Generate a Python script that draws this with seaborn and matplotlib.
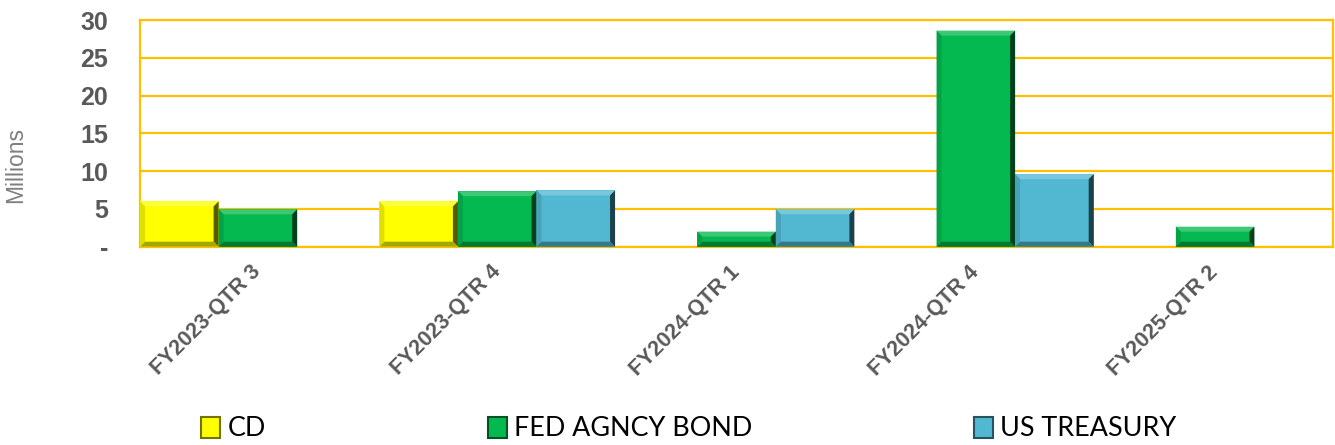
import seaborn as sns
import matplotlib.pyplot as plt
import matplotlib.colors as mcolors
from matplotlib import font_manager as fm
from matplotlib.patches import Polygon, Patch
from matplotlib.textpath import TextPath
import pandas as pd
import numpy as np

quarters = ['FY2023-QTR 3', 'FY2023-QTR 4', 'FY2024-QTR 1', 'FY2024-QTR 4', 'FY2025-QTR 2']
types = ['CD', 'FED AGNCY BOND', 'US TREASURY']
cd = [6.0, 6.0, 0, 0, 0]
fed_agncy_bond = [4.95, 7.35, 2.0, 28.6, 2.65]
us_treasury = [0, 7.45, 4.95, 9.6, 0]
colors = ['#FFFF00', '#05B951', '#52B8D1']

rows = []
for t, vals in zip(types, [cd, fed_agncy_bond, us_treasury]):
    for q, v in zip(quarters, vals):
        rows.append({'quarter': q, 'type': t, 'value': v})
df = pd.DataFrame(rows)

gold = '#FFC000'
grey = '#595959'


def pick_font(cands):
    for c in cands:
        try:
            fm.findfont(fm.FontProperties(family=c), fallback_to_default=False)
            return c
        except ValueError:
            continue
    return 'DejaVu Sans'


legend_font = pick_font(['Liberation Sans Narrow', 'Lato', 'Open Sans'])
# size the legend text so that "FED AGNCY BOND" is about 234 px wide
w10 = TextPath((0, 0), 'FED AGNCY BOND', size=10,
               prop=fm.FontProperties(family=legend_font)).get_extents().width
leg_px = 10 * 234 / w10
leg_pt = leg_px * 72 / 100

fig = plt.figure(figsize=(13.35, 4.45), dpi=100)
ax = fig.add_axes([0.1049, 0.4456, 0.8936, 0.5094])

sns.barplot(data=df, x='quarter', y='value', hue='type', hue_order=types,
            order=quarters, palette=colors, saturation=1, width=0.985, gap=0,
            linewidth=0, errorbar=None, legend=False, ax=ax, zorder=3)

ax.set_xlim(-0.4925, 4.4925)
ax.set_ylim(0, 30)
ax.set_axisbelow(True)
ax.yaxis.grid(True, color=gold, linewidth=1.6)
ax.xaxis.grid(False)
for s in ax.spines.values():
    s.set_color(gold)
    s.set_linewidth(1.6)

ax.set_yticks([0, 5, 10, 15, 20, 25, 30])
ax.set_yticklabels(['-', '5', '10', '15', '20', '25', '30'],
                   fontsize=18, fontweight='bold', color=grey,
                   family='Liberation Sans')
ax.tick_params(axis='y', length=0, pad=23)
ax.tick_params(axis='x', length=0, pad=16)
ax.set_xticks(range(len(quarters)))
ax.set_xticklabels(quarters, rotation=45, ha='right', va='center',
                   rotation_mode='anchor', fontsize=15.5, fontweight='bold',
                   color=grey, family='Liberation Sans')
ax.set_xlabel('')
ax.set_ylabel('')
fig.text(0.012, 0.63, 'Millions', rotation=90, ha='center', va='center',
         fontsize=16.5, color='#7F7F7F', family='Liberation Sans')

# bevel effect on each bar, derived from the bar geometry
fig.canvas.draw()
bbox = ax.get_window_extent()
px_x = (ax.get_xlim()[1] - ax.get_xlim()[0]) / bbox.width
px_y = (ax.get_ylim()[1] - ax.get_ylim()[0]) / bbox.height


def mix(c, other, f):
    c = np.array(mcolors.to_rgb(c))
    o = np.array(mcolors.to_rgb(other))
    return tuple(c * (1 - f) + o * f)


for p in list(ax.patches):
    h = p.get_height()
    if not np.isfinite(h) or h <= 0:
        continue
    x0, w, y0 = p.get_x(), p.get_width(), p.get_y()
    x1, y1 = x0 + w, y0 + h
    fc = p.get_facecolor()[:3]
    bev = min(5, h / px_y / 3)
    dx, dy = bev * px_x, bev * px_y
    faces = [
        ([(x0, y1), (x1, y1), (x1 - dx, y1 - dy), (x0 + dx, y1 - dy)], mix(fc, 'white', 0.22)),
        ([(x0, y0), (x0, y1), (x0 + dx, y1 - dy), (x0 + dx, y0 + dy)], mix(fc, 'black', 0.12)),
        ([(x1, y0), (x1, y1), (x1 - dx, y1 - dy), (x1 - dx, y0 + dy)], mix(fc, 'black', 0.65)),
        ([(x0, y0), (x1, y0), (x1 - dx, y0 + dy), (x0 + dx, y0 + dy)], mix(fc, 'black', 0.35)),
    ]
    for pts, col in faces:
        ax.add_patch(Polygon(pts, closed=True, facecolor=col, edgecolor='none', zorder=4))

handles = [Patch(facecolor=c, edgecolor=mix(c, 'black', 0.55), linewidth=1.5) for c in colors]
fig.legend(handles, types, loc='center', bbox_to_anchor=(0.516, 0.036), ncol=3,
           frameon=False, prop={'family': [legend_font, 'DejaVu Sans'], 'size': leg_pt},
           handlelength=19 / leg_px, handleheight=22 / leg_px,
           handletextpad=7 / leg_px, columnspacing=222 / leg_px, borderpad=0)

fig.savefig('out.png', dpi=100)
